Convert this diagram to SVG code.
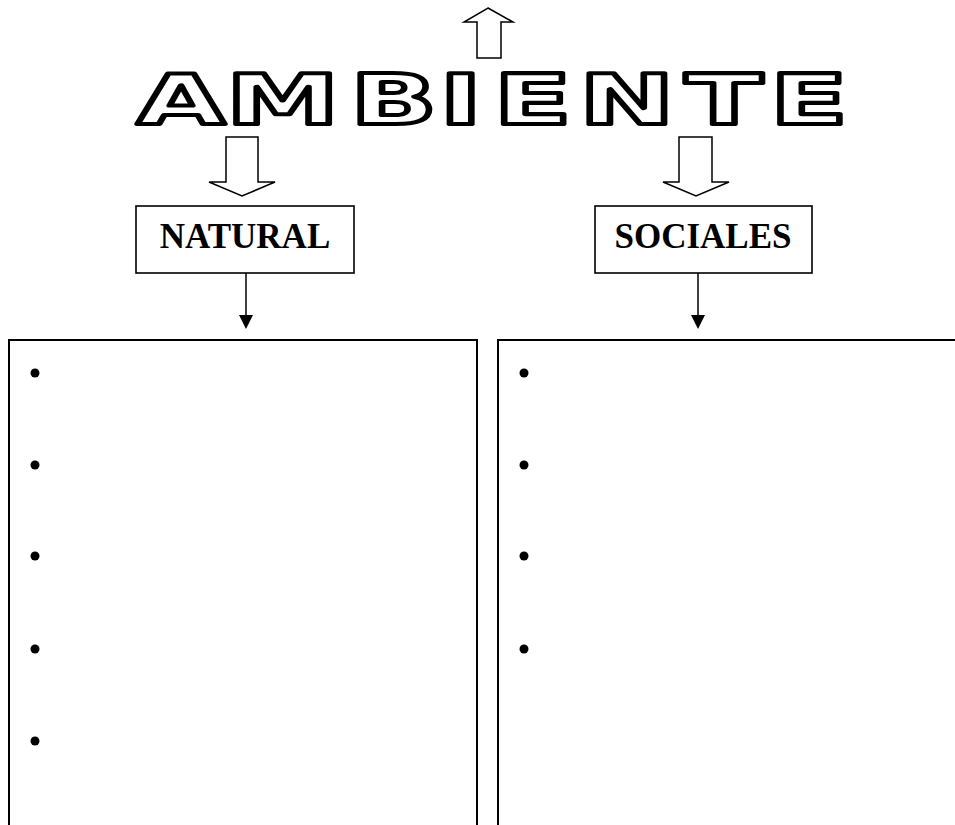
<svg xmlns="http://www.w3.org/2000/svg" width="955" height="825" viewBox="0 0 955 825">
<style>
.blk{fill:#fff;stroke:#000;stroke-width:1.5;stroke-linejoin:miter}
.box{fill:#fff;stroke:#000;stroke-width:1.6}
.big{fill:none;stroke:#000;stroke-width:2}
.lbl{font-family:"Liberation Serif","Times New Roman",serif;font-weight:bold;font-size:35px;fill:#000;text-anchor:middle}
.title{font-family:"DejaVu Sans",sans-serif;font-weight:bold;font-size:69px;fill:#fff;stroke:#000;stroke-width:5.5;stroke-linejoin:round;vector-effect:non-scaling-stroke}
.ln{stroke:#000;stroke-width:1.5;fill:none}
.bul{fill:#000}
</style>
<rect width="955" height="825" fill="#fff"/>
<g id="title">
<polygon class="blk" points="488,8 513,22 501,22 501,58 477,58 477,22 464,22"/>
<text class="title" transform="scale(1.65,1)" x="83 137 212.3 266.4 299.3 351 415.2 466.6" y="124">AMBIENTE</text>
</g>
<g id="arrows">
<polygon class="blk" points="226,137 258,137 258,182 275,182 242,196 209,182 226,182"/>
<polygon class="blk" points="679,137 712,137 712,182 729,182 696,196 663,182 679,182"/>
</g>
<g id="natural">
<rect class="box" x="136" y="206" width="218" height="67"/>
<text class="lbl" x="245" y="248">NATURAL</text>
</g>
<g id="sociales">
<rect class="box" x="595" y="206" width="217" height="67"/>
<text class="lbl" x="703" y="248">SOCIALES</text>
</g>
<g id="connectors">
<line class="ln" x1="246" y1="273" x2="246" y2="316"/>
<polygon points="239,315 253,315 246,329" fill="#000"/>
<line class="ln" x1="698" y1="273" x2="698" y2="316"/>
<polygon points="691,315 705,315 698,329" fill="#000"/>
</g>
<g id="natural-list">
<rect class="big" x="9" y="340" width="468" height="500"/>
<circle class="bul" cx="35" cy="373" r="4.5"/>
<circle class="bul" cx="35" cy="465" r="4.5"/>
<circle class="bul" cx="35" cy="556" r="4.5"/>
<circle class="bul" cx="35" cy="649" r="4.5"/>
<circle class="bul" cx="35" cy="741" r="4.5"/>
</g>
<g id="sociales-list">
<rect class="big" x="498" y="340" width="470" height="500"/>
<circle class="bul" cx="524" cy="373" r="4.5"/>
<circle class="bul" cx="524" cy="465" r="4.5"/>
<circle class="bul" cx="524" cy="556" r="4.5"/>
<circle class="bul" cx="524" cy="649" r="4.5"/>
</g>
</svg>
